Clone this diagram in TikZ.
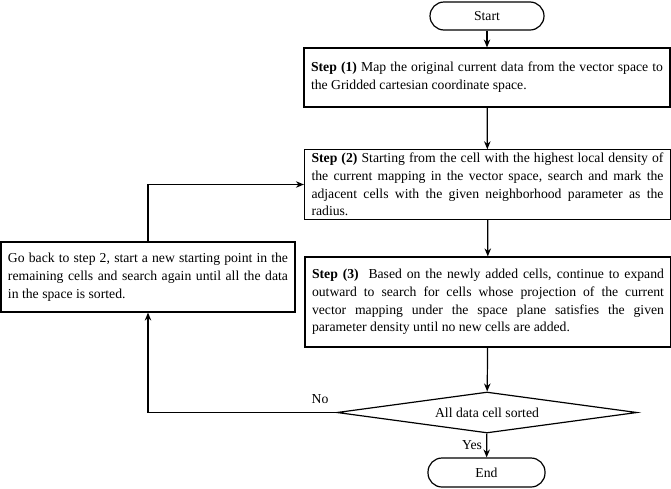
\documentclass[tikz,border=0pt]{standalone}
\usepackage{fontspec}
\setmainfont{Liberation Serif}
\usetikzlibrary{shapes.geometric,arrows.meta}
\begin{document}
\begin{tikzpicture}[x=1pt,y=-1pt,
  font=\fontsize{13.7}{17.8}\selectfont,
  every node/.style={line width=1.2pt},
  term/.style={draw,rounded corners=14pt,minimum width=114pt,minimum height=28pt,inner sep=2pt},
  stepbox/.style={draw,text width=352pt,inner xsep=7pt,inner ysep=3pt,align=justify},
  decbox/.style={draw,diamond,aspect=7,minimum width=300pt,minimum height=41pt,inner sep=1pt},
  conn/.style={line width=1.2pt,-{Stealth[length=8pt,width=6.5pt]}}]
\useasboundingbox (0,0) rectangle (671,488);
\node[term] (start) at (487,16) {Start};
\node[stepbox,minimum height=59pt] (s1) at (487,77.5) {\textbf{Step (1)} Map the original current data from the vector space to\linebreak the Gridded cartesian coordinate space.};
\node[stepbox,minimum height=68pt] (s2) at (487.5,184.5) {\textbf{Step (2)} Starting from the cell with the highest local density of\linebreak the current mapping in the vector space, search and mark the\linebreak adjacent cells with the given neighborhood parameter as the\linebreak radius.};
\node[stepbox,minimum height=90pt] (s3) at (488,302) {\textbf{Step (3)}\ \ Based on the newly added cells, continue to expand\linebreak outward to search for cells whose projection of the current\linebreak vector mapping under the space plane satisfies the given\linebreak parameter density until no new cells are added.};
\node[draw,text width=280pt,inner xsep=7pt,inner ysep=3pt,align=justify,minimum height=70pt] (back) at (148,277) {Go back to step 2, start a new starting point in the\linebreak remaining cells and search again until all the data\linebreak in the space is sorted.};
\node[decbox] (dec) at (487,412.5) {All data cell sorted};
\node[term,minimum width=117pt,minimum height=29pt] (end) at (486.5,472.5) {End};
\node (nolab) at (320,399) {No};
\node (yeslab) at (472,445) {Yes};
\draw[conn] (start) -- (s1);
\draw[conn] (s1) -- (s2);
\draw[conn] (s2) -- (s3);
\draw[conn] (s3) -- (dec);
\draw[conn] (dec) -- (end);
\draw[conn] (dec.west) -| (back.south);
\draw[conn] (back.north) |- (s2.west);
\end{tikzpicture}
\end{document}
